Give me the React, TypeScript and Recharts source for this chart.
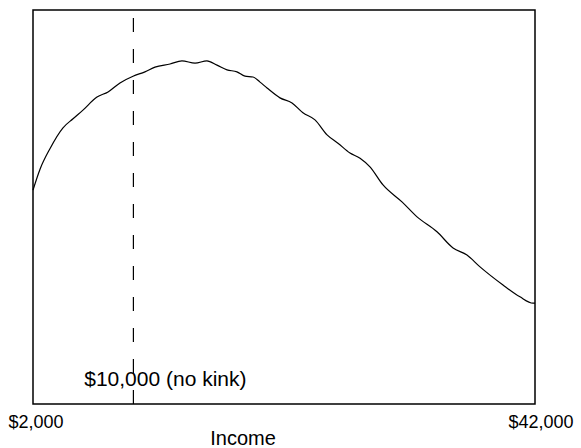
import React from 'react';
import { LineChart, Line, XAxis, YAxis, ReferenceLine, ReferenceArea } from 'recharts';

const incomes = [
  2000, 2560, 3350, 4390, 5190, 5980, 7100, 7980, 8930, 9970, 10920, 11720,
  12920, 13870, 14910, 15860, 16660, 17460, 18250, 18890, 19530, 20090, 20650,
  21680, 22640, 23510, 24470, 25430, 26300, 27260, 28060, 28850, 29890, 31400,
  32600, 34190, 35470, 36580, 37620, 39450, 40800, 41840, 42000,
];
const density = [
  54.3, 59.6, 64.8, 70.1, 72.4, 74.6, 77.9, 79.2, 81.5, 83.2, 84.3, 85.5,
  86.3, 87.1, 86.5, 87.1, 86.0, 84.8, 84.3, 83.2, 83.0, 81.7, 80.2,
  77.7, 76.4, 73.9, 72.1, 68.3, 66.2, 63.7, 62.4, 60.2, 55.6, 51.3,
  47.5, 43.7, 39.6, 37.8, 34.8, 30.2, 27.2, 25.6, 25.6,
];
const tickValues = [2000, 42000];
const tickLabels = ['$2,000', '$42,000'];
const kinkIncome = 10000;
const kinkLabel = '$10,000 (no kink)';
const xLabel = 'Income';

const data = incomes.map((x, i) => ({ income: x, density: density[i] }));

const FONT = '"Liberation Sans", Arial, Helvetica, sans-serif';

function Tick(props: any) {
  const { x, y, payload } = props;
  const idx = tickValues.indexOf(payload.value);
  return (
    <text x={x + (idx === 0 ? 3 : 6)} y={y + 24} textAnchor="middle" fontSize={18} fill="#000" fontFamily={FONT}>
      {tickLabels[idx]}
    </text>
  );
}

export default function App() {
  return (
    <div style={{ position: 'absolute', left: 0, top: 0, background: '#fff' }}>
      <LineChart
        width={581}
        height={448}
        data={data}
        margin={{ top: 10, right: 46, bottom: 0, left: 33 }}
        style={{ fontFamily: FONT }}
      >
        <XAxis
          dataKey="income"
          type="number"
          domain={[2000, 42000]}
          ticks={tickValues}
          axisLine={false}
          tickLine={false}
          tickSize={0}
          tickMargin={0}
          height={44}
          tick={<Tick />}
          label={{ value: xLabel, position: 'insideBottom', offset: 3, dx: -41, fontSize: 20, fill: '#000', fontFamily: FONT }}
        />
        <YAxis hide domain={[0, 100]} type="number" />
        <ReferenceArea x1={2000} x2={42000} y1={0} y2={100} fill="none" stroke="#000" strokeWidth={1.5} fillOpacity={0} />
        <ReferenceLine
          x={kinkIncome}
          stroke="#000"
          strokeWidth={1.2}
          strokeDasharray="14 17"
          label={{ value: kinkLabel, position: 'insideBottom', offset: 18, dx: 32, fontSize: 21, fill: '#000', fontFamily: FONT }}
        />
        <Line
          type="monotone"
          dataKey="density"
          stroke="#000"
          strokeWidth={1.2}
          dot={false}
          isAnimationActive={false}
        />
      </LineChart>
    </div>
  );
}
